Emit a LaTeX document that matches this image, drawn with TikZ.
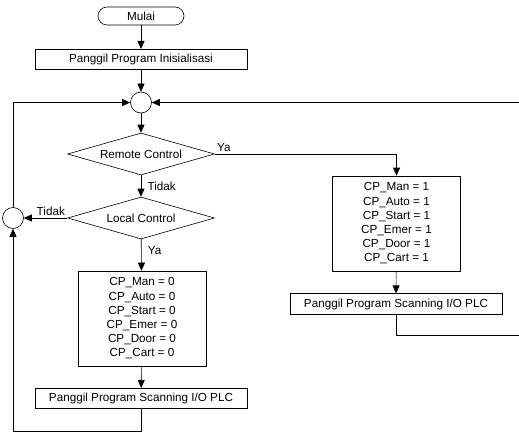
\documentclass[tikz,border=0pt]{standalone}
\usepackage{fontspec}
\setmainfont{Liberation Sans}
\usetikzlibrary{shapes.geometric,arrows.meta}
\begin{document}
\begin{tikzpicture}[x=1pt,y=-1pt,line width=0.6pt,>={Triangle[length=8pt,width=7pt]},
  font=\fontsize{11.7}{14.2}\selectfont]
  \tikzstyle{terminal}=[rectangle,draw,rounded corners=9pt,minimum width=86pt,minimum height=18pt,inner sep=0pt]
  \tikzstyle{block}=[rectangle,draw,minimum width=212pt,minimum height=20.5pt,inner sep=0pt]
  \tikzstyle{varbox}=[rectangle,draw,align=center,minimum width=128pt,minimum height=95pt,inner sep=0pt]
  \tikzstyle{decision}=[diamond,draw,aspect=3.5,minimum width=147pt,minimum height=42pt,inner sep=0pt]
  \tikzstyle{joint}=[circle,draw,minimum size=21pt,inner sep=0pt]
  \useasboundingbox (0,0) rectangle (519,433);

  \node[terminal] (start) at (141,16) {Mulai};
  \node[block] (init) at (141,59.5) {Panggil Program Inisialisasi};
  \node[joint] (join) at (141,102.5) {};
  \node[decision] (remote) at (141,154) {Remote Control};
  \node[decision] (local) at (141,218) {Local Control};
  \node[joint] (back) at (13,218) {};

  \foreach \name/\x/\y/\v in {setzero/142/318.5/0, setone/396.5/223.5/1}
    \node[varbox] (\name) at (\x,\y) {CP\_Man = \v\\ CP\_Auto = \v\\ CP\_Start = \v\\
      CP\_Emer = \v\\ CP\_Door = \v\\ CP\_Cart = \v};
  \foreach \name/\x/\y in {scanzero/141/398.5, scanone/396/304}
    \node[block] (\name) at (\x,\y) {Panggil Program Scanning I/O PLC};

  \coordinate (floor) at (13,431);
  \coordinate (rimbot) at (521,335);
  \coordinate (rimtop) at (521,102.5);

  \foreach \from/\to in {start/init, init/join, join/remote, setzero/scanzero, setone/scanone}
    { \draw[->] (\from) -- (\to); }

  \draw[->] (remote) -- node[right,xshift=3pt] {Tidak} (local);
  \draw[->] (local) -- node[pos=0.35,right,xshift=3pt] {Ya} (setzero);
  \draw[->] (local) -- node[at start,above left,inner sep=2pt] {Tidak} (back);
  \draw[->] (remote) -| node[at start,above right,inner sep=2pt] {Ya} (setone);
  \draw[->] (back) |- (join);
  \draw[->] (scanzero) |- (floor) -- (back);
  \draw[->] (scanone) |- (rimbot) -- (rimtop) -- (join);
\end{tikzpicture}
\end{document}
